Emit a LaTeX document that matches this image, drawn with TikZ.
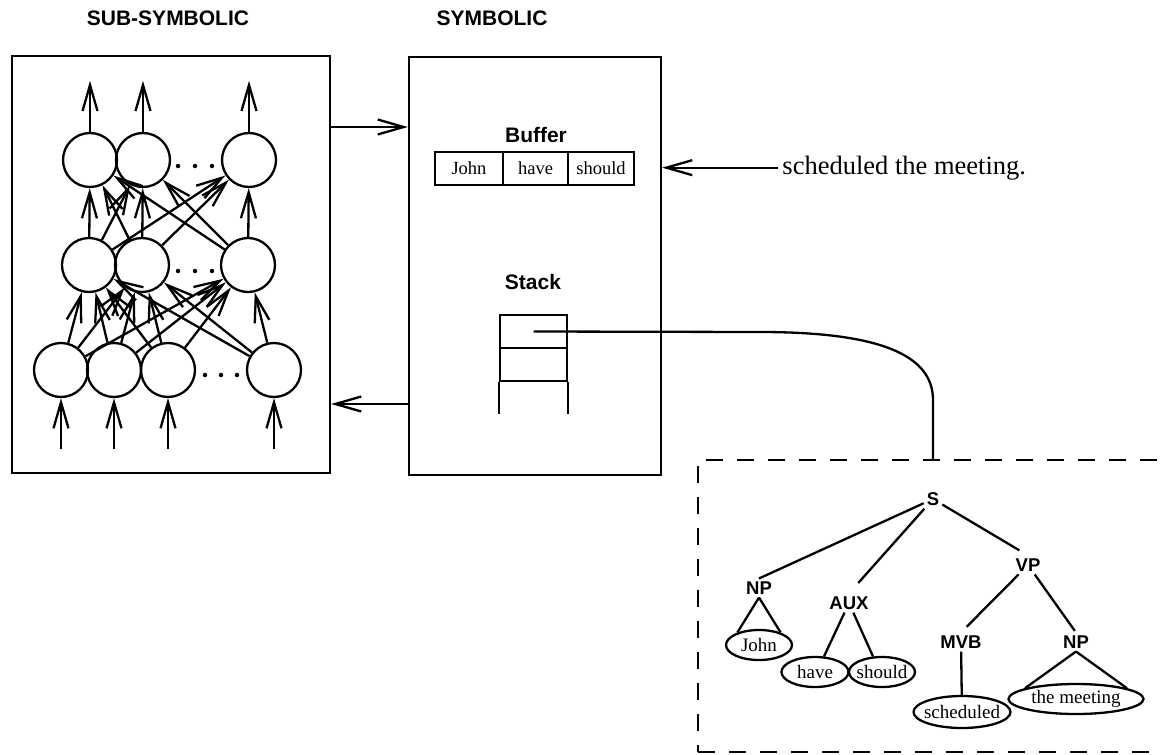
\documentclass[tikz,border=0pt]{standalone}
\usepackage{fontspec}
\setmainfont{Liberation Serif}
\newfontfamily\hv{Liberation Sans}
\usetikzlibrary{arrows.meta,shapes.geometric}

\begin{document}
\begin{tikzpicture}[x=1pt,y=-1pt,line width=2.3pt,
  tip/.style={-{Straight Barb[length=26pt,width=15pt]}},
  neuron/.style={circle,draw,minimum size=54pt,inner sep=0pt},
  dotmark/.style={circle,fill,inner sep=0pt,minimum size=4.5pt},
  title/.style={font=\hv\bfseries\fontsize{21}{24}\selectfont},
  cat/.style={font=\hv\bfseries\fontsize{18.5}{20}\selectfont,inner sep=2pt},
  word/.style={ellipse,draw,inner xsep=-6pt,inner ysep=0pt,minimum height=30pt,
    font=\fontsize{19}{21}\selectfont},
  cell/.style={draw,minimum height=33pt,inner sep=0pt,font=\fontsize{18.5}{20}\selectfont},
  slot/.style={draw,minimum width=67pt,minimum height=33pt,inner sep=0pt},
  box/.style={draw,inner sep=0pt},
]
\useasboundingbox (0,0) rectangle (1163,755);
\clip (0,0) rectangle (1163,755);

% headings
\node[title] (hsub) at (168,18) {SUB-SYMBOLIC};
\node[title] (hsym) at (492,18) {SYMBOLIC};

% the two modules
\node[box,minimum width=318pt,minimum height=417pt] (sub) at (171,264.5) {};
\node[box,minimum width=252pt,minimum height=418pt] (sym) at (535,266) {};

% connections between the modules
\coordinate (upper) at (0,127);
\coordinate (lower) at (0,404);
\draw[tip] (sub.east |- upper) -- (sym.west |- upper);
\draw[tip] (sym.west |- lower) -- (sub.east |- lower);

% network: output, hidden and input layers
\node[neuron] (t1) at (90,160) {};
\node[neuron] (t2) at (143,160) {};
\node[neuron] (t3) at (249,160) {};
\node[neuron] (m1) at (89,265) {};
\node[neuron] (m2) at (142,265) {};
\node[neuron] (m3) at (248,265) {};
\node[neuron] (b1) at (61,370) {};
\node[neuron] (b2) at (114,370) {};
\node[neuron] (b3) at (168,370) {};
\node[neuron] (b4) at (274,370) {};

\foreach \x in {178,195,212} {
  \node[dotmark] at (\x,166) {};
  \node[dotmark] at (\x,271) {};
}
\foreach \x in {205,221,237} \node[dotmark] at (\x,375) {};

\foreach \n in {t1,t2,t3} {
  \coordinate (\n-out) at ([yshift=51pt]\n.north);
  \draw[tip] (\n.north) -- (\n-out);
}
\foreach \n in {b1,b2,b3,b4} {
  \coordinate (\n-in) at ([yshift=-51pt]\n.south);
  \draw[tip] (\n-in) -- (\n.south);
}
\foreach \u in {m1,m2,m3}
  \foreach \v in {t1,t2,t3}
    \draw[tip] (\u) -- (\v);
\foreach \u in {b1,b2,b3,b4}
  \foreach \v in {m1,m2,m3}
    \draw[tip] (\u) -- (\v);

% buffer
\node[title] (buflabel) at (536,135) {Buffer};
\node[cell,minimum width=68pt] (c1) at (469,168.5) {John};
\node[cell,minimum width=65pt] (c2) at (535.5,168.5) {have};
\node[cell,minimum width=66pt] (c3) at (601,168.5) {should};

% incoming words
\node[anchor=base west,font=\fontsize{26.5}{30}\selectfont] (input) at (778,174) {scheduled the meeting.};
\draw[tip] (input.west) -- (sym.east |- input.west);

% stack
\node[title] (stacklabel) at (533,282) {Stack};
\node[slot] (s1) at (533.5,331.5) {};
\node[slot] (s2) at (533.5,364.5) {};
\coordinate (s3l) at ([yshift=-32pt]s2.south west);
\coordinate (s3r) at ([yshift=-32pt]s2.south east);
\draw (s2.south west) -- (s3l);
\draw (s2.south east) -- (s3r);

% parse tree
\node[box,dash pattern=on 17pt off 14pt,minimum width=502pt,minimum height=292pt] (treebox) at (949,606) {};

\node[cat] (S) at (933,499) {S};
\node[cat] (VP) at (1028,565) {VP};
\node[cat] (NPa) at (759,588) {NP};
\node[cat] (AUX) at (849,603) {AUX};
\node[cat] (MVB) at (961,642) {MVB};
\node[cat] (NPb) at (1076,642) {NP};

\node[word,minimum width=66pt] (wjohn) at (759,645) {John};
\node[word,minimum width=67pt] (whave) at (815,672) {have};
\node[word,minimum width=66pt] (wshould) at (882,672) {should};
\node[word,minimum width=97pt,minimum height=32pt] (wsched) at (962,712) {scheduled};
\node[word,minimum width=135pt] (wmeet) at (1076,699) {the meeting};

\draw (S) -- (NPa.north);
\draw[shorten >=14pt] (S) -- (AUX.north);
\draw[shorten >=10pt] (S) -- (VP.north);
\draw[shorten >=8pt] (VP) -- (MVB.north);
\draw[shorten >=2pt] (VP) -- (NPb.north);
\draw (AUX) -- (whave.60);
\draw (AUX) -- (wshould.120);
\draw (MVB) -- (wsched);
\draw (NPa.south) -- (wjohn.150);
\draw (NPa.south) -- (wjohn.30);
\draw (NPb.south) -- (wmeet.168);
\draw (NPb.south) -- (wmeet.12);

% pointer from the stack top to the tree
\draw (s1.center) -- (760,332) .. controls (880,332) and (933,355) .. (933,400)
  -- (treebox.north -| S);
\end{tikzpicture}
\end{document}
